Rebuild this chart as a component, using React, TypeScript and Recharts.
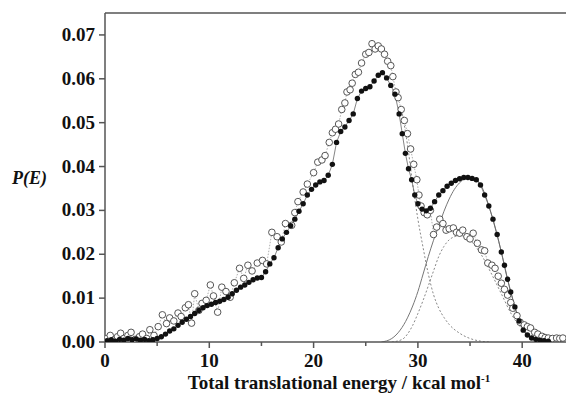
import { ComposedChart, Line, XAxis, YAxis, ReferenceLine, Label } from 'recharts';

// energy (kcal/mol), P(E)
const FILLED: [number, number][] = [
  [0.2, 0.0003], [0.6, 0.0005], [1.0, 0.0002], [1.4, 0.0006], [1.8, 0.0004], [2.2, 0.0008], [2.6, 0.0005],
  [3.0, 0.0007], [3.4, 0.0004], [3.8, 0.0006], [4.2, 0.0003], [4.6, 0.0005], [5.0, 0.0008], [5.4, 0.0012],
  [5.8, 0.0018], [6.2, 0.0025], [6.6, 0.003], [7.0, 0.0038], [7.4, 0.0045], [7.8, 0.0052], [8.2, 0.0058],
  [8.6, 0.0065], [9.0, 0.0072], [9.4, 0.0078], [9.8, 0.0083], [10.2, 0.0086], [10.6, 0.009], [11.0, 0.0093],
  [11.4, 0.0097], [11.8, 0.0102], [12.2, 0.011], [12.6, 0.0118], [13.0, 0.0125], [13.4, 0.013], [13.8, 0.0136],
  [14.2, 0.0142], [14.6, 0.0146], [15.0, 0.0147], [15.4, 0.016], [15.8, 0.0178], [16.2, 0.0192], [16.6, 0.0215],
  [17.0, 0.0235], [17.4, 0.025], [17.8, 0.0265], [18.2, 0.028], [18.6, 0.0298], [19.0, 0.0315], [19.4, 0.0335],
  [19.8, 0.0348], [20.2, 0.0358], [20.6, 0.0365], [21.0, 0.0368], [21.4, 0.038], [21.8, 0.0405], [22.2, 0.0455],
  [22.6, 0.048], [23.0, 0.049], [23.4, 0.0505], [23.8, 0.052], [24.2, 0.0555], [24.6, 0.0572], [25.0, 0.0578],
  [25.4, 0.0582], [25.8, 0.0595], [26.2, 0.0608], [26.6, 0.0614], [27.0, 0.0602], [27.4, 0.0585], [27.8, 0.0565],
  [28.2, 0.052], [28.5, 0.0475], [28.8, 0.043], [29.1, 0.0395], [29.4, 0.037], [29.7, 0.0335], [30.0, 0.0315],
  [30.4, 0.0303], [30.8, 0.0299], [31.2, 0.0305], [31.6, 0.032], [32.0, 0.0335], [32.4, 0.0345], [32.8, 0.0355],
  [33.2, 0.0362], [33.6, 0.0368], [34.0, 0.0372], [34.4, 0.0375], [34.8, 0.0375], [35.2, 0.0373], [35.6, 0.037],
  [36.0, 0.0358], [36.4, 0.0335], [36.8, 0.031], [37.2, 0.028], [37.6, 0.0245], [38.0, 0.0205], [38.3, 0.0175],
  [38.6, 0.0143], [38.9, 0.0114], [39.3, 0.008], [39.7, 0.0048], [40.1, 0.0027], [40.5, 0.0016], [40.9, 0.0009],
  [41.3, 0.0006], [41.7, 0.0004], [42.1, 0.0003], [42.5, 0.0002],
];

const OPEN: [number, number][] = [
  [0.2, 0.0008], [0.5, 0.0015], [0.9, 0.0005], [1.2, 0.0012], [1.5, 0.002], [1.8, 0.0008], [2.2, 0.0015],
  [2.5, 0.0022], [2.9, 0.0006], [3.3, 0.0012], [3.6, 0.0018], [4.0, 0.0008], [4.3, 0.0028], [4.7, 0.0015],
  [5.1, 0.0035], [5.5, 0.0062], [5.9, 0.0042], [6.2, 0.0055], [6.6, 0.0048], [7.0, 0.0066], [7.3, 0.0058],
  [7.7, 0.0078], [8.0, 0.0085], [8.3, 0.0043], [8.6, 0.011], [9.0, 0.0072], [9.3, 0.0088], [9.7, 0.0095],
  [10.1, 0.013], [10.4, 0.0105], [10.8, 0.0068], [11.2, 0.0125], [11.6, 0.0115], [12.0, 0.0102], [12.4, 0.0135],
  [12.9, 0.0168], [13.3, 0.0145], [13.7, 0.0175], [14.1, 0.0162], [14.6, 0.018], [15.1, 0.0186], [15.5, 0.0178],
  [16.0, 0.025], [16.5, 0.024], [16.9, 0.0228], [17.3, 0.027], [17.9, 0.0266], [18.2, 0.0295], [18.5, 0.032],
  [19.0, 0.0342], [19.4, 0.036], [20.0, 0.0386], [20.4, 0.041], [20.8, 0.0415], [21.1, 0.0425], [21.5, 0.0455],
  [21.8, 0.0477], [22.1, 0.0485], [22.4, 0.0497], [22.7, 0.053], [23.0, 0.0545], [23.2, 0.057], [23.5, 0.0575],
  [23.7, 0.059], [24.0, 0.061], [24.3, 0.0615], [24.6, 0.0636], [25.0, 0.0656], [25.3, 0.066], [25.6, 0.068],
  [25.9, 0.0668], [26.2, 0.0675], [26.5, 0.0668], [26.8, 0.0656], [27.1, 0.064], [27.4, 0.063], [27.6, 0.0605],
  [27.9, 0.057], [28.1, 0.0557], [28.4, 0.053], [28.7, 0.0505], [29.0, 0.0475], [29.3, 0.044], [29.6, 0.0405],
  [29.9, 0.037], [30.1, 0.0335], [30.3, 0.031], [30.6, 0.0295], [30.9, 0.029], [31.2, 0.03], [31.5, 0.0245],
  [31.8, 0.0262], [32.1, 0.028], [32.4, 0.027], [32.7, 0.0255], [33.0, 0.0258], [33.4, 0.026], [33.7, 0.025],
  [34.0, 0.0248], [34.3, 0.0255], [34.7, 0.024], [35.0, 0.0235], [35.3, 0.0248], [35.7, 0.0225], [36.1, 0.021],
  [36.4, 0.0208], [36.7, 0.018], [37.1, 0.0175], [37.4, 0.0168], [37.7, 0.015], [38.0, 0.0134], [38.3, 0.012],
  [38.6, 0.0107], [38.9, 0.009], [39.1, 0.0077], [39.5, 0.006], [39.8, 0.0045], [40.2, 0.0039], [40.5, 0.0035],
  [40.8, 0.0032], [41.2, 0.0022], [41.5, 0.0018], [41.9, 0.0013], [42.2, 0.001], [42.5, 0.0009], [42.9, 0.0008],
  [43.3, 0.0009], [43.6, 0.0008], [43.9, 0.0009],
];

// fitted components (gray lines)
const FIT_SOLID: [number, number][] = [
  [26.5, 0], [27.5, 0.0008], [28.3, 0.0027], [29.0, 0.0055], [29.5, 0.0082], [30.0, 0.0115], [30.5, 0.0155],
  [31.0, 0.0195], [31.5, 0.0232], [32.0, 0.0265], [32.5, 0.0298], [33.0, 0.0326], [33.5, 0.0348], [34.0, 0.0363],
  [34.5, 0.0372], [35.0, 0.0374], [35.5, 0.0371], [36.0, 0.036], [36.5, 0.0332], [37.0, 0.0295], [37.5, 0.0252],
  [38.0, 0.0205], [38.5, 0.0152], [39.0, 0.0106], [39.5, 0.0064], [40.0, 0.0032], [40.5, 0.0016], [41.0, 0.0008],
  [42.0, 0.0002], [43.0, 0],
];

const FIT_DOT_A: [number, number][] = [
  [28.5, 0.052], [29.0, 0.045], [29.5, 0.036], [30.0, 0.028], [30.5, 0.0215], [31.0, 0.0155], [31.5, 0.0108],
  [32.0, 0.0077], [32.5, 0.0056], [33.0, 0.004], [34.0, 0.002], [35.0, 0.0008], [36.0, 0.0002], [37.0, 0],
];

const FIT_DOT_B: [number, number][] = [
  [27.5, 0], [28.5, 0.0006], [29.0, 0.0018], [29.5, 0.0038], [30.0, 0.0065], [30.5, 0.0095], [31.0, 0.0128],
  [31.5, 0.0162], [32.0, 0.0195], [32.5, 0.0218], [33.0, 0.0233], [33.5, 0.024], [34.0, 0.0243], [34.5, 0.024],
  [35.0, 0.0232], [36.0, 0.0202], [37.0, 0.0158], [38.0, 0.011], [39.0, 0.0062], [40.0, 0.003], [41.0, 0.0012],
  [42.0, 0.0004], [43.0, 0],
];

const X_TICKS = [0, 5, 10, 15, 20, 25, 30, 35, 40];
const Y_TICKS = [0, 0.005, 0.01, 0.015, 0.02, 0.025, 0.03, 0.035, 0.04, 0.045, 0.05, 0.055, 0.06, 0.065, 0.07];

const toPts = (arr: [number, number][]) => arr.map(([e, p]) => ({ e, p }));

const AXIS = '#555';
const FONT = '"Liberation Serif", "Times New Roman", serif';
const PLOT_LEFT = 105;
const PLOT_BOTTOM = 342;

function YTick({ y, payload }: any) {
  const v = payload.value as number;
  const major = Math.round(v * 1000) % 10 === 0;
  return (
    <g>
      <line x1={PLOT_LEFT - (major ? 6 : 4)} x2={PLOT_LEFT} y1={y} y2={y} stroke={AXIS} strokeWidth={1.5} />
      {major && (
        <text x={PLOT_LEFT - 10} y={y} dy={6} textAnchor="end" fontFamily={FONT} fontWeight="bold" fontSize={19} fill="#111">
          {v.toFixed(2)}
        </text>
      )}
    </g>
  );
}

function XTick({ x, payload }: any) {
  const v = payload.value as number;
  const major = v % 10 === 0;
  return (
    <g>
      <line x1={x} x2={x} y1={PLOT_BOTTOM} y2={PLOT_BOTTOM + (major ? 6 : 4)} stroke={AXIS} strokeWidth={1.5} />
      {major && (
        <text x={x} y={367} textAnchor="middle" fontFamily={FONT} fontWeight="bold" fontSize={19} fill="#111">
          {v}
        </text>
      )}
    </g>
  );
}

const filledDot = (props: any) => {
  const { cx, cy, index } = props;
  return <circle key={`f${index}`} cx={cx} cy={cy} r={2.7} fill="#111" />;
};

const openDot = (props: any) => {
  const { cx, cy, index } = props;
  return <circle key={`o${index}`} cx={cx} cy={cy} r={3.3} fill="#fff" stroke="#444" strokeWidth={0.9} />;
};

export default function App() {
  return (
    <div style={{ position: 'absolute', left: 0, top: 0, width: 566, height: 394, background: '#fff' }}>
      <ComposedChart width={566} height={394} margin={{ top: 13, right: 0, left: 0, bottom: 0 }}>
        <XAxis
          type="number"
          dataKey="e"
          domain={[0, 44.2]}
          ticks={X_TICKS}
          tick={<XTick />}
          tickLine={false}
          axisLine={{ stroke: AXIS, strokeWidth: 1.5 }}
          height={52}
          allowDataOverflow
        >
          <Label
            content={() => (
              <text x={339} y={389} textAnchor="middle" fontFamily={FONT} fontWeight="bold" fontSize={19} fill="#111">
                Total translational energy / kcal mol
                <tspan dy={-7} fontSize={11}>-1</tspan>
              </text>
            )}
          />
        </XAxis>
        <YAxis
          type="number"
          dataKey="p"
          domain={[0, 0.075]}
          ticks={Y_TICKS}
          tick={<YTick />}
          tickLine={false}
          axisLine={{ stroke: AXIS, strokeWidth: 1.5 }}
          width={PLOT_LEFT}
          allowDataOverflow
        >
          <Label
            content={() => (
              <text x={12} y={184} fontFamily={FONT} fontWeight="bold" fontStyle="italic" fontSize={18} fill="#111">
                P(E)
              </text>
            )}
          />
        </YAxis>
        <ReferenceLine y={0.075} stroke={AXIS} strokeWidth={1.5} />
        <Line data={toPts(FIT_DOT_A)} dataKey="p" type="monotone" stroke="#888" strokeWidth={1} strokeDasharray="2 2" dot={false} isAnimationActive={false} />
        <Line data={toPts(FIT_DOT_B)} dataKey="p" type="monotone" stroke="#888" strokeWidth={1} strokeDasharray="2 2" dot={false} isAnimationActive={false} />
        <Line data={toPts(FIT_SOLID)} dataKey="p" type="monotone" stroke="#777" strokeWidth={1} dot={false} isAnimationActive={false} />
        <Line data={toPts(OPEN)} dataKey="p" type="linear" stroke="#999" strokeWidth={0.8} strokeDasharray="1.5 1.5" dot={openDot} isAnimationActive={false} />
        <Line data={toPts(FILLED)} dataKey="p" type="linear" stroke="#666" strokeWidth={0.8} dot={filledDot} isAnimationActive={false} />
      </ComposedChart>
    </div>
  );
}
